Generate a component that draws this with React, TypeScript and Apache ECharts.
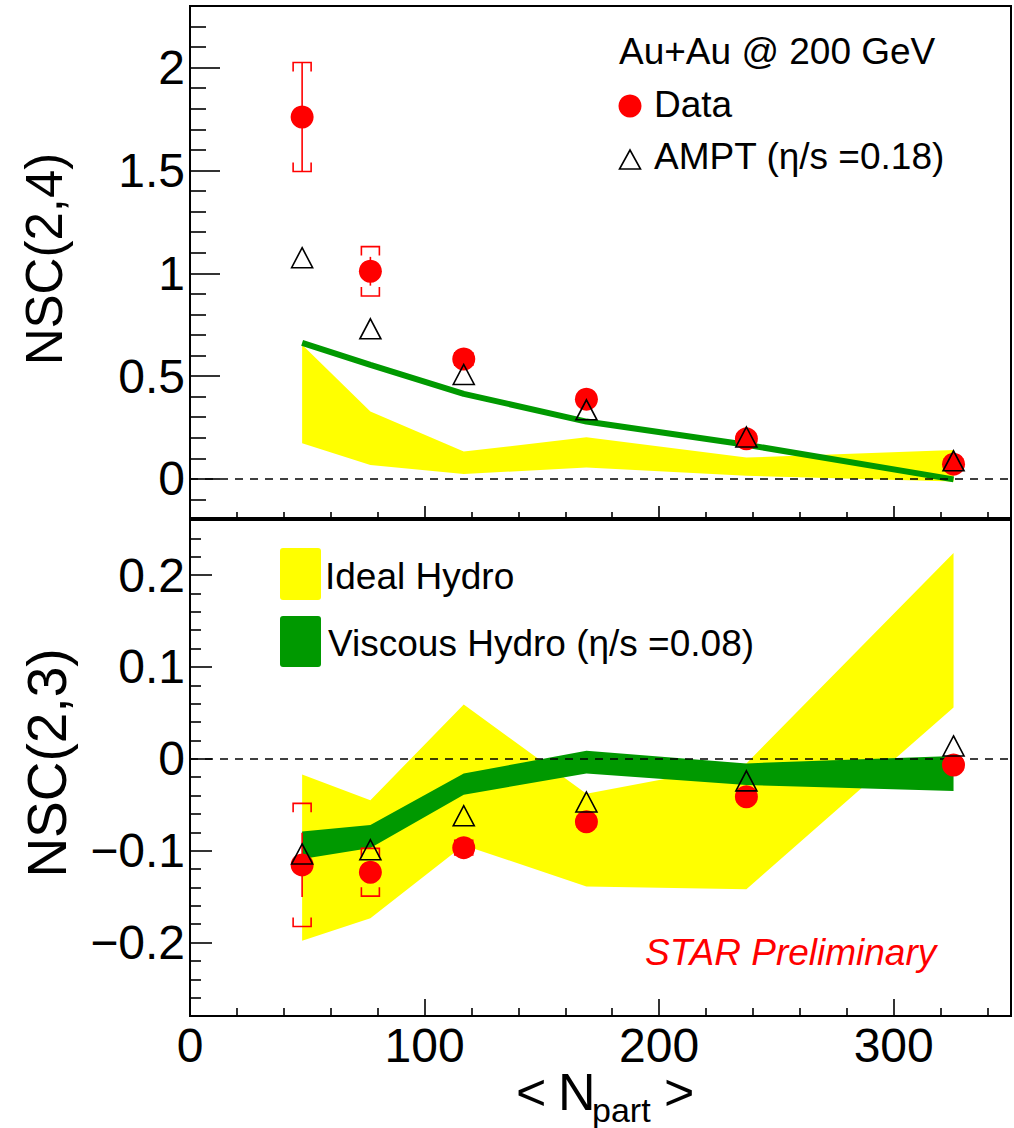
import { useEffect, useRef } from "react";
import * as echarts from "echarts";

// Centrality: mean number of participants per bin
const npart = [47.8, 76.9, 116.7, 169.0, 237.2, 325.5];

// NSC(2,4)
const nsc24Data = [1.76, 1.01, 0.583, 0.388, 0.195, 0.072];
const nsc24Stat = [0.265, 0.07, 0.01, 0.01, 0.008, 0.008];
const nsc24Sys = [0.265, 0.12, 0.03, 0.02, 0.015, 0.015];
const nsc24Ampt = [1.076, 0.73, 0.508, 0.336, 0.204, 0.088];
const viscous24 = [0.662, 0.555, 0.414, 0.279, 0.166, -0.002];
const ideal24Low = [0.174, 0.068, 0.024, 0.055, 0.015, -0.013];
const ideal24High = [0.653, 0.328, 0.133, 0.203, 0.104, 0.141];

// NSC(2,3)
const nsc23Data = [-0.1155, -0.1235, -0.0967, -0.0685, -0.0413, -0.0068];
const nsc23Stat = [0.035, 0.008, 0.006, 0.005, 0.004, 0.004];
const nsc23Sys = [0.067, 0.026, 0.008, 0.006, 0.005, 0.005];
const nsc23Ampt = [-0.1036, -0.099, -0.062, -0.047, -0.024, 0.014];
const viscous23Low = [-0.109, -0.097, -0.039, -0.016, -0.0286, -0.035];
const viscous23High = [-0.079, -0.072, -0.016, 0.0087, -0.005, 0.003];
const ideal23Low = [-0.198, -0.1735, -0.094, -0.139, -0.142, 0.056];
const ideal23High = [-0.017, -0.045, 0.059, -0.038, -0.005, 0.224];

const FONT = '"Liberation Sans", Arial, Helvetica, sans-serif';
const RED = "#ff0000";
const YELLOW = "#ffff00";
const GREEN = "#009900";

function fmtTick(v: number): string {
  const r = parseFloat(v.toFixed(3));
  if (r === 0) return "0";
  return r < 0 ? "\u2212" + String(-r) : String(r);
}

function isMultiple(v: number, step: number): boolean {
  const q = v / step;
  return Math.abs(q - Math.round(q)) < 1e-6;
}

function bandSeries(
  gridIdx: number,
  low: number[],
  high: number[],
  color: string,
  z: number
) {
  return {
    type: "custom",
    xAxisIndex: gridIdx,
    yAxisIndex: gridIdx,
    z,
    silent: true,
    data: npart.map((x, i) => [x, low[i], high[i]]),
    renderItem: (params: any, api: any) => {
      if (params.dataIndex !== 0) return { type: "group", children: [] };
      const upper = npart.map((x, i) => api.coord([x, high[i]]));
      const lower = npart.map((x, i) => api.coord([x, low[i]])).reverse();
      return {
        type: "polygon",
        shape: { points: upper.concat(lower) },
        style: { fill: color, stroke: null },
      };
    },
  };
}

function errorSeries(gridIdx: number, vals: number[], stat: number[], sys: number[]) {
  return {
    type: "custom",
    xAxisIndex: gridIdx,
    yAxisIndex: gridIdx,
    z: 4,
    silent: true,
    data: npart.map((x, i) => [x, vals[i], stat[i], sys[i]]),
    renderItem: (_params: any, api: any) => {
      const x = api.value(0);
      const y = api.value(1);
      const st = api.value(2);
      const sy = api.value(3);
      const c = api.coord([x, y]);
      const sTop = api.coord([x, y + st])[1];
      const sBot = api.coord([x, y - st])[1];
      const bTop = api.coord([x, y + sy])[1];
      const bBot = api.coord([x, y - sy])[1];
      const w = 9;
      const leg = 9;
      const style = { stroke: RED, lineWidth: 1.6, fill: "none" };
      return {
        type: "group",
        children: [
          { type: "line", shape: { x1: c[0], y1: sTop, x2: c[0], y2: sBot }, style },
          {
            type: "polyline",
            shape: {
              points: [
                [c[0] - w, bTop + leg],
                [c[0] - w, bTop],
                [c[0] + w, bTop],
                [c[0] + w, bTop + leg],
              ],
            },
            style,
          },
          {
            type: "polyline",
            shape: {
              points: [
                [c[0] - w, bBot - leg],
                [c[0] - w, bBot],
                [c[0] + w, bBot],
                [c[0] + w, bBot - leg],
              ],
            },
            style,
          },
        ],
      };
    },
  };
}

function zeroLine(gridIdx: number) {
  return {
    type: "line",
    xAxisIndex: gridIdx,
    yAxisIndex: gridIdx,
    data: [],
    z: 3,
    silent: true,
    markLine: {
      silent: true,
      symbol: ["none", "none"],
      label: { show: false },
      lineStyle: { color: "#000", type: [8, 7], width: 1.5 },
      data: [{ yAxis: 0 }],
    },
  };
}

function dataSeries(gridIdx: number, vals: number[]) {
  return {
    type: "scatter",
    xAxisIndex: gridIdx,
    yAxisIndex: gridIdx,
    z: 5,
    symbol: "circle",
    symbolSize: 23,
    itemStyle: { color: RED, opacity: 1 },
    data: npart.map((x, i) => [x, vals[i]]),
  };
}

function amptSeries(gridIdx: number, vals: number[]) {
  return {
    type: "scatter",
    xAxisIndex: gridIdx,
    yAxisIndex: gridIdx,
    z: 6,
    symbol: "triangle",
    symbolSize: [21, 20],
    itemStyle: { color: "rgba(0,0,0,0)", borderColor: "#000", borderWidth: 1.6, opacity: 1 },
    data: npart.map((x, i) => [x, vals[i]]),
  };
}

const tickStyle = { color: "#000", width: 1.6 };

function xAxis(gridIdx: number, showLabels: boolean, major: number, minor: number) {
  return {
    gridIndex: gridIdx,
    type: "value",
    min: 0,
    max: 350,
    interval: 100,
    axisLine: { show: true, onZero: false, lineStyle: { color: "#000", width: 2 } },
    axisTick: { show: true, inside: true, length: major, lineStyle: tickStyle },
    minorTick: { show: true, splitNumber: 5, length: minor, lineStyle: tickStyle },
    splitLine: { show: false },
    axisLabel: {
      show: showLabels,
      color: "#000",
      fontFamily: FONT,
      fontSize: 48,
      lineHeight: 40,
      margin: 9,
      formatter: (v: number) => (isMultiple(v, 100) ? fmtTick(v) : ""),
    },
  };
}

function yAxis(
  gridIdx: number,
  min: number,
  max: number,
  step: number,
  major: number,
  minor: number
) {
  return {
    gridIndex: gridIdx,
    type: "value",
    min,
    max,
    splitNumber: 5,
    axisLine: { show: true, onZero: false, lineStyle: { color: "#000", width: 2 } },
    axisTick: { show: true, inside: true, length: major, lineStyle: tickStyle },
    minorTick: { show: true, splitNumber: 5, length: minor, lineStyle: tickStyle },
    splitLine: { show: false },
    axisLabel: {
      color: "#000",
      fontFamily: FONT,
      fontSize: 48,
      margin: 5,
      formatter: (v: number) => (isMultiple(v, step) ? fmtTick(v) : ""),
    },
  };
}

function txt(text: string, x: number, y: number, size: number, extra: any = {}) {
  return {
    type: "text",
    x,
    y,
    z: 10,
    silent: true,
    ...(extra.rotation !== undefined ? { rotation: extra.rotation } : {}),
    style: {
      text,
      fontFamily: FONT,
      fontSize: size,
      fontStyle: extra.italic ? "italic" : "normal",
      fill: extra.color || "#000",
      align: extra.align || "left",
      verticalAlign: "middle",
      ...(extra.lineHeight ? { lineHeight: extra.lineHeight } : {}),
    },
  };
}

export default function App() {
  const ref = useRef<HTMLDivElement>(null);

  useEffect(() => {
    if (!ref.current) return;
    const chart = echarts.init(ref.current, null, { renderer: "svg" });

    const option: any = {
      animation: false,
      backgroundColor: "#fff",
      grid: [
        { left: 190, top: 6, width: 821, height: 512, show: true, borderColor: "#000", borderWidth: 2, backgroundColor: "transparent" },
        { left: 190, top: 520, width: 821, height: 496, show: true, borderColor: "#000", borderWidth: 2, backgroundColor: "transparent" },
      ],
      xAxis: [xAxis(0, false, 12, 6), xAxis(1, true, 17, 8)],
      yAxis: [yAxis(0, -0.19, 2.3, 0.5, 30, 16), yAxis(1, -0.28, 0.26, 0.1, 22, 11)],
      series: [
        // NSC(2,4) panel
        bandSeries(0, ideal24Low, ideal24High, YELLOW, 1),
        {
          type: "line",
          xAxisIndex: 0,
          yAxisIndex: 0,
          z: 2,
          symbol: "none",
          lineStyle: { color: GREEN, width: 6 },
          data: npart.map((x, i) => [x, viscous24[i]]),
        },
        zeroLine(0),
        errorSeries(0, nsc24Data, nsc24Stat, nsc24Sys),
        dataSeries(0, nsc24Data),
        amptSeries(0, nsc24Ampt),
        // NSC(2,3) panel
        bandSeries(1, ideal23Low, ideal23High, YELLOW, 1),
        bandSeries(1, viscous23Low, viscous23High, GREEN, 2),
        zeroLine(1),
        errorSeries(1, nsc23Data, nsc23Stat, nsc23Sys),
        dataSeries(1, nsc23Data),
        amptSeries(1, nsc23Ampt),
      ],
      graphic: [
        // axis titles
        txt("NSC(2,4)", 44, 259, 51, { rotation: Math.PI / 2, align: "center" }),
        txt("NSC(2,3)", 47, 763, 55, { rotation: Math.PI / 2, align: "center" }),
        txt("<", 516, 1092, 52, { lineHeight: 38 }),
        txt("N", 558, 1092, 52, { lineHeight: 38 }),
        txt("part", 592, 1110, 34, { lineHeight: 30 }),
        txt(">", 664, 1092, 52, { lineHeight: 38 }),
        // upper legend
        txt("Au+Au @ 200 GeV", 619, 51, 37),
        { type: "circle", z: 10, silent: true, shape: { cx: 630, cy: 106, r: 11.5 }, style: { fill: RED } },
        txt("Data", 654, 104, 37),
        {
          type: "polygon",
          z: 10,
          silent: true,
          shape: { points: [[619.5, 169], [640.5, 169], [630, 150]] },
          style: { fill: "none", stroke: "#000", lineWidth: 1.6 },
        },
        txt("AMPT (\u03b7/s =0.18)", 654, 156, 37),
        // lower legend
        { type: "rect", z: 10, silent: true, shape: { x: 280, y: 548, width: 41, height: 52, r: 3 }, style: { fill: YELLOW } },
        txt("Ideal Hydro", 325, 576, 37),
        { type: "rect", z: 10, silent: true, shape: { x: 280, y: 616, width: 41, height: 51, r: 3 }, style: { fill: GREEN } },
        txt("Viscous Hydro (\u03b7/s =0.08)", 328, 643, 37),
        txt("STAR Preliminary", 645, 952, 37, { italic: true, color: RED }),
      ],
    };

    chart.setOption(option);
    return () => chart.dispose();
  }, []);

  return (
    <div
      ref={ref}
      style={{ position: "fixed", left: 0, top: 0, width: 1014, height: 1128, background: "#fff" }}
    />
  );
}
